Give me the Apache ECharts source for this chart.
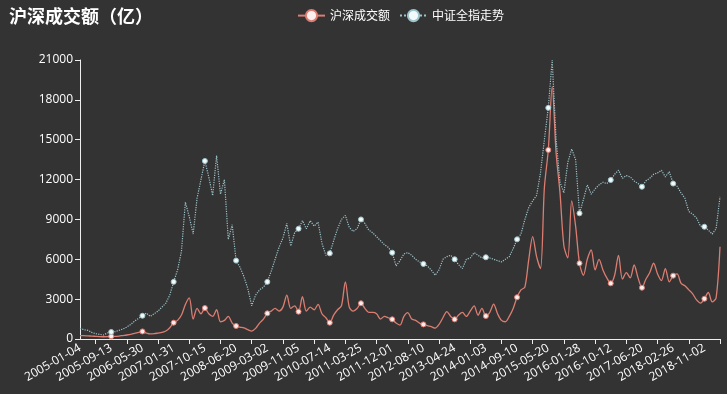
<!DOCTYPE html>
<html>
<head>
<meta charset="utf-8">
<script src="https://cdn.jsdelivr.net/npm/echarts@6/dist/echarts.min.js"></script>
<style>
html,body{margin:0;padding:0;background:#333333;}
#chart{width:727px;height:394px;}
</style>
</head>
<body>
<div id="chart"></div>
<script>
// Tick labels shown on the x axis (every 8th category)
const tickDates = ['2005-01-04','2005-09-13','2006-05-30','2007-01-31','2007-10-15','2008-06-20','2009-03-02','2009-11-05','2010-07-14','2011-03-25','2011-12-01','2012-08-10','2013-04-24','2014-01-03','2014-09-10','2015-05-20','2016-01-28','2016-10-12','2017-06-20','2018-02-26','2018-11-02'];
const lastDate = '2019-03-08';

// 沪深成交额 (亿)
const turnover = [
250,250,230,220,200,180,170,180,
200,200,220,260,300,350,420,500,
570,450,380,400,450,500,600,850,
1230,1400,1800,2600,3100,1500,2300,1900,
2330,1900,1700,2200,1300,1400,1700,1200,
980,900,830,700,600,800,1200,1500,
1930,2100,2300,2100,2400,3300,2300,2500,
2060,3180,2100,2400,2200,2600,1900,1600,
1230,1800,2200,2500,4300,2400,2100,2300,
2690,2300,2000,2000,1900,1500,1700,1600,
1480,1200,1050,1700,1980,1500,1400,1200,
1100,1000,930,820,1100,1600,2060,1700,
1480,1800,2000,1700,2100,2500,1800,2300,
1730,2000,2630,1900,1400,1300,1700,2300,
3140,3700,3900,6000,7700,6200,5300,11400,
14230,18990,14000,11000,7000,6100,10400,8500,
5700,4800,6000,6700,5200,6000,5200,4600,
4190,4800,6300,4500,5000,4600,5570,4600,
3860,4500,5000,5700,4900,4400,5300,4300,
4770,4900,4200,4000,3700,3400,2940,2700,
3030,3500,2800,3100,6950
];

// 中证全指走势
const csiIndex = [
800,700,650,500,400,350,300,450,
530,550,650,750,900,1100,1350,1550,
1750,1950,1700,1900,2100,2400,2700,3300,
4300,5200,6600,10300,9200,7900,10600,12000,
13400,12200,10800,13800,10900,12000,7500,8600,
5900,5400,4700,3800,2500,3300,3700,3900,
4300,5100,6000,6900,7600,8700,7000,8000,
8300,8900,8300,8900,8500,8800,7200,6300,
6450,7400,8300,9000,9300,8400,8100,8300,
9000,8700,8200,8000,7700,7400,7100,6900,
6500,5500,5900,6400,6500,6300,6000,5800,
5650,5500,5200,4800,5200,6000,6200,6300,
6000,5600,5300,6000,6100,6500,6300,6100,
6150,6100,6000,5900,5800,6000,6200,6800,
7500,7900,9000,9900,10400,10800,12500,15000,
17400,21000,15000,11800,11000,13300,14300,13500,
9460,10500,11600,10900,11300,11600,11800,11700,
11970,12400,12700,12100,12300,12200,11900,11700,
11460,11900,12100,12400,12500,12700,12200,12600,
11700,11500,11000,10600,9600,9400,9100,8500,
8450,8200,7900,8300,10700
];

const yMin = 0, yMax = 21000, yInterval = 3000;
const perTick = 8;

function parseD(s){const p=s.split('-');return Date.UTC(+p[0],+p[1]-1,+p[2]);}
function fmt(t){const d=new Date(t);const m=d.getUTCMonth()+1, dd=d.getUTCDate();return d.getUTCFullYear()+'-'+(m<10?'0':'')+m+'-'+(dd<10?'0':'')+dd;}
const categories = [];
for (let k = 0; k < tickDates.length - 1; k++) {
  categories.push(tickDates[k]);
  const a = parseD(tickDates[k]), b = parseD(tickDates[k+1]);
  for (let j = 1; j < perTick; j++) categories.push(fmt(a + (b - a) * j / perTick));
}
{
  const a = parseD(tickDates[tickDates.length-1]), b = parseD(lastDate);
  const rest = turnover.length - categories.length;
  categories.push(tickDates[tickDates.length-1]);
  for (let j = 1; j < rest; j++) categories.push(fmt(a + (b - a) * j / (rest - 1)));
}

const redColor = '#dc7d72';
const blueColor = '#9ec3ca';
const chart = echarts.init(document.getElementById('chart'));
chart.setOption({
  backgroundColor: '#333333',
  animation: false,
  title: {
    text: '沪深成交额（亿）',
    left: 4, top: 2,
    textStyle: {color: '#ffffff', fontSize: 18, fontWeight: 'bold', fontFamily: 'Noto Sans CJK SC'}
  },
  legend: {
    left: 292, top: 4,
    itemWidth: 27, itemHeight: 14, itemGap: 9,
    textStyle: {color: '#ffffff', fontSize: 12, fontFamily: 'Noto Sans CJK SC'},
    data: ['沪深成交额', '中证全指走势']
  },
  grid: {left: 80, right: 7, top: 60, bottom: 55},
  xAxis: {
    type: 'category',
    boundaryGap: false,
    data: categories,
    axisLine: {lineStyle: {color: '#eeeeee', width: 1}},
    axisTick: {interval: function (i) { return i % perTick === perTick / 2; }, length: 5, lineStyle: {color: '#eeeeee'}},
    axisLabel: {interval: perTick - 1, rotate: 30, color: '#ffffff', fontSize: 12, margin: 8, fontFamily: 'Open Sans'},
    splitLine: {show: false}
  },
  yAxis: {
    type: 'value',
    min: yMin, max: yMax, interval: yInterval,
    axisLine: {show: true, lineStyle: {color: '#eeeeee', width: 1}},
    axisTick: {show: true, length: 5, lineStyle: {color: '#eeeeee'}},
    axisLabel: {color: '#ffffff', fontSize: 12, margin: 7, fontFamily: 'Open Sans', formatter: function (v) { return String(v); }},
    splitLine: {show: false}
  },
  series: [
    {
      name: '沪深成交额',
      type: 'line',
      smooth: 0.3,
      data: turnover,
      showAllSymbol: true,
      symbol: 'circle',
      symbolSize: function (v, p) { return p.dataIndex % perTick === 0 && p.dataIndex > 0 ? 5 : 0; },
      lineStyle: {color: redColor, width: 1.3},
      itemStyle: {color: '#fbeeee', borderColor: redColor, borderWidth: 1}
    },
    {
      name: '中证全指走势',
      type: 'line',
      data: csiIndex,
      showAllSymbol: true,
      symbol: 'circle',
      symbolSize: function (v, p) { return p.dataIndex % perTick === 0 && p.dataIndex > 0 ? 5 : 0; },
      lineStyle: {color: blueColor, width: 1.2, type: 'dotted'},
      itemStyle: {color: '#f2fafa', borderColor: blueColor, borderWidth: 1}
    }
  ]
});
</script>
</body>
</html>
